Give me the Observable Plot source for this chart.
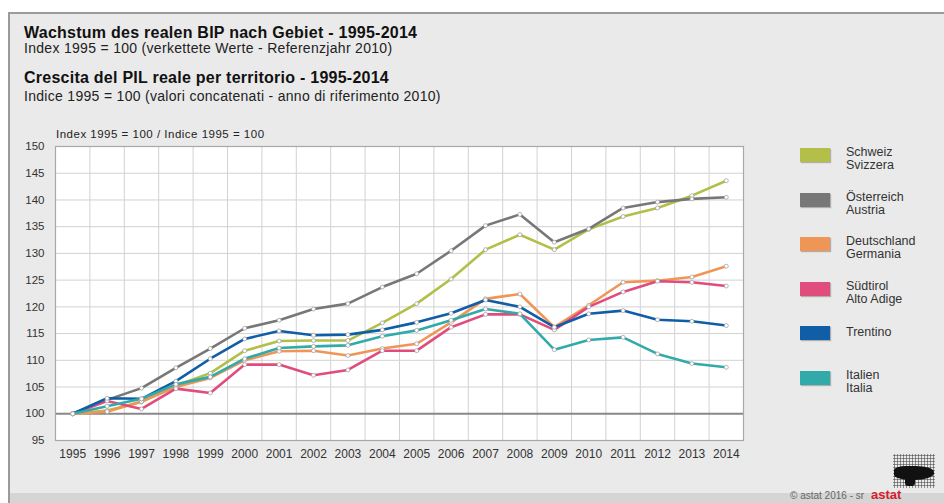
<!DOCTYPE html>
<html><head><meta charset="utf-8">
<script src="https://cdn.jsdelivr.net/npm/d3@7"></script>
<script src="https://cdn.jsdelivr.net/npm/@observablehq/plot@0.6"></script>
<style>
body{margin:0;width:944px;height:503px;overflow:hidden;background:#fff;font-family:"Liberation Sans",Arial,sans-serif;color:#111;}
#page{position:absolute;left:8px;top:12px;width:936px;height:491px;background:#eaeaea;border-top:2px solid #9a9a9a;border-left:2px solid #9a9a9a;box-sizing:border-box;}
.t{position:absolute;left:24px;white-space:nowrap;}
.h{font-weight:bold;font-size:16px;letter-spacing:0.25px;}
.s{font-size:14px;color:#222;letter-spacing:0.3px;}
#chart{position:absolute;left:0;top:125px;}
#idx{position:absolute;left:56px;top:128px;font-size:11.5px;letter-spacing:0.5px;color:#222;white-space:nowrap;}
.sw{position:absolute;width:30px;height:14px;box-shadow:1px 1px 1px rgba(0,0,0,0.25);}
.lt{position:absolute;font-size:12.5px;line-height:13px;color:#333;white-space:nowrap;}
#band{position:absolute;left:10px;top:493px;width:934px;height:10px;background:#d5d5d5;}
#copy{position:absolute;left:790px;top:490px;font-size:10px;line-height:12px;color:#666;white-space:nowrap;}
#astat{position:absolute;left:871px;top:488px;font-size:13px;line-height:14px;font-weight:bold;color:#d4202c;}
#logo{position:absolute;left:893px;top:454px;width:42px;height:34px;background-image:radial-gradient(circle,#444 45%,transparent 52%);background-size:3px 3px;opacity:.8;}
#blob{position:absolute;left:894px;top:466px;width:40px;height:14px;background:#111;border-radius:30% 45% 50% 40%;}
#blob2{position:absolute;left:905px;top:476px;width:10px;height:10px;background:#111;border-radius:30%;}
</style></head>
<body>
<div id="page"></div>
<div class="t h" style="top:24px">Wachstum des realen BIP nach Gebiet - 1995-2014</div>
<div class="t s" style="top:40px">Index 1995 = 100 (verkettete Werte - Referenzjahr 2010)</div>
<div class="t h" style="top:69px">Crescita del PIL reale per territorio - 1995-2014</div>
<div class="t s" style="top:88px">Indice 1995 = 100 (valori concatenati - anno di riferimento 2010)</div>
<div id="idx">Index 1995 = 100 / Indice 1995 = 100</div>
<div id="chart"></div>
<div id="legend"></div>
<div id="band"></div>
<div id="logo"></div><div id="blob"></div><div id="blob2"></div>
<div id="copy">© astat 2016 - sr</div>
<div id="astat">astat</div>
<script>
const years = [1995,1996,1997,1998,1999,2000,2001,2002,2003,2004,2005,2006,2007,2008,2009,2010,2011,2012,2013,2014];
const schweiz     = [100,100.6,102.2,105.3,107.6,111.8,113.6,113.7,113.7,117.0,120.6,125.2,130.7,133.5,130.7,134.5,136.9,138.5,140.8,143.6];
const oesterreich = [100,102.6,104.8,108.6,112.2,116.0,117.5,119.6,120.6,123.7,126.2,130.5,135.2,137.3,132.1,134.6,138.5,139.6,140.2,140.5];
const deutschland = [100,100.4,102.3,105.0,106.7,110.0,111.7,111.8,110.9,112.2,113.1,117.1,121.5,122.4,116.2,120.3,124.6,124.9,125.6,127.6];
const suedtirol   = [100,102.4,100.9,104.7,103.9,109.2,109.2,107.2,108.2,111.8,111.8,116.2,118.6,118.6,115.7,120.0,122.8,124.8,124.6,123.9];
const trentino    = [100,102.9,102.8,106.1,110.3,114.0,115.5,114.7,114.8,115.7,117.1,118.8,121.3,120.0,116.2,118.7,119.3,117.6,117.3,116.5];
const italia      = [100,101.4,102.8,105.5,106.9,110.3,112.3,112.6,112.8,114.5,115.6,117.5,119.6,118.7,112.0,113.8,114.3,111.2,109.4,108.7];
const seriesNames = [["Schweiz","Svizzera"],["Österreich","Austria"],["Deutschland","Germania"],["Südtirol","Alto Adige"],["Trentino"],["Italien","Italia"]];
const seriesColors = ["#b3bf48","#777777","#ef9656","#e04c7c","#0f5ea6","#33aaaa"];
const yTicks = [95,100,105,110,115,120,125,130,135,140,145,150];

const allSeries = [schweiz,oesterreich,deutschland,suedtirol,trentino,italia];
const data = [];
allSeries.forEach((vals,i)=>vals.forEach((v,j)=>data.push({year:years[j],value:v,s:i})));

const marks = [
  Plot.frame({fill:"#fff",stroke:"none"}),
  Plot.ruleY(yTicks.filter(d=>d!==100),{stroke:"#d2d2d2",strokeWidth:1}),
  Plot.ruleX(years.slice(0,-1).map(y=>y+0.5),{stroke:"#d2d2d2",strokeWidth:1}),
  Plot.ruleY([100],{stroke:"#888",strokeWidth:1.8}),
  Plot.frame({stroke:"#a8a8a8",strokeWidth:1.2}),
  Plot.axisY({ticks:yTicks,tickSize:0,tickPadding:11,fontSize:11.5,label:null}),
  Plot.axisX({ticks:years,tickFormat:d=>String(d),tickSize:0,tickPadding:9,fontSize:12,label:null})
];
allSeries.forEach((vals,i)=>{
  const d = data.filter(r=>r.s===i);
  marks.push(Plot.line(d,{x:"year",y:"value",stroke:seriesColors[i],strokeWidth:2.6}));
});
allSeries.forEach((vals,i)=>{
  const d = data.filter(r=>r.s===i);
  marks.push(Plot.dot(d,{x:"year",y:"value",r:2,fill:"#fff",stroke:"#999",strokeWidth:0.7}));
});

const chart = Plot.plot({
  width:944, height:345,
  marginLeft:55, marginRight:201, marginTop:21, marginBottom:30,
  x:{domain:[1994.5,2014.5]},
  y:{domain:[95,150]},
  style:{fontFamily:"'Liberation Sans',Arial,sans-serif",color:"#333",background:"transparent",overflow:"visible"},
  marks
});
document.getElementById("chart").appendChild(chart);

const leg = d3.select("#legend");
seriesNames.forEach((n,i)=>{
  const top = 148 + i*44.5;
  leg.append("div").attr("class","sw").style("left","800px").style("top",top+"px").style("background",seriesColors[i]);
  leg.append("div").attr("class","lt").style("left","846px").style("top",(n.length===1? top : top-2)+"px").html(n.join("<br>"));
});
</script>
</body></html>
